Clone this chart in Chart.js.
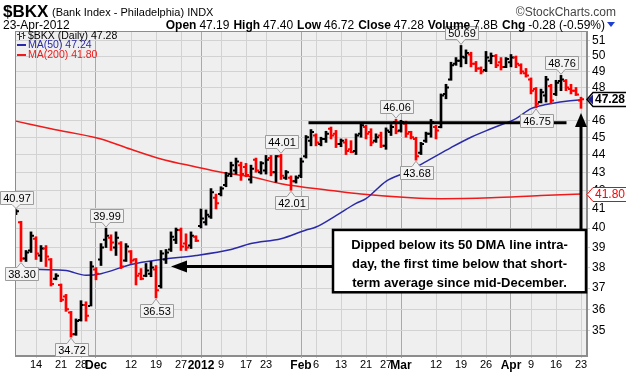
<!DOCTYPE html>
<html>
<head>
<meta charset="utf-8">
<script src="https://cdn.jsdelivr.net/npm/chart.js@4.4.1/dist/chart.umd.min.js"></script>
<style>
  html, body { margin: 0; padding: 0; background: #fff; }
  #wrap { width: 626px; height: 372px; }
</style>
</head>
<body>
<div id="wrap"><canvas id="bkx" width="626" height="372"></canvas></div>
<script>
// daily bars, 8-Nov-2011 .. 23-Apr-2012 (index 0..113)
const opens = [
  40.80, 40.30, 38.45, 38.85, 39.45, 38.60, 38.95, 38.40, 37.45, 37.15,
  36.60, 35.85, 34.85, 35.50, 36.20, 36.15, 37.90, 38.40, 39.40, 39.50,
  39.00, 39.20, 38.35, 38.80, 38.40, 37.70, 37.60, 37.70, 37.90, 37.10,
  38.40, 38.90, 39.40, 39.90, 39.20, 39.10, 39.55, 40.10, 40.30, 40.60,
  41.60, 41.80, 42.30, 42.90, 43.10, 43.40, 43.30, 42.60, 43.70, 43.00,
  43.10, 43.80, 43.00, 43.90, 42.70, 42.70, 42.50, 42.80, 43.90, 44.80,
  45.10, 44.60, 44.90, 45.50, 45.20, 44.60, 44.70, 44.30, 44.20, 45.20,
  45.60, 45.30, 44.80, 45.10, 44.50, 45.30, 45.90, 45.40, 45.80, 45.30,
  44.90, 44.10, 44.80, 45.20, 45.60, 45.60, 47.60, 48.50, 49.50, 49.70,
  49.90, 50.10, 49.50, 49.20, 49.10, 49.70, 50.00, 49.60, 49.30, 49.60,
  49.90, 49.40, 48.90, 48.50, 47.90, 47.10, 47.50, 48.10, 47.60, 48.40,
  48.40, 47.90, 47.80, 47.19
];
const highs = [
  40.97, 40.35, 38.85, 39.80, 39.55, 39.10, 39.10, 38.45, 37.70, 37.20,
  36.70, 35.90, 35.55, 36.40, 36.35, 38.30, 38.00, 39.20, 39.99, 39.65,
  39.80, 39.30, 39.20, 38.85, 38.45, 37.95, 38.20, 38.30, 38.10, 38.85,
  38.90, 39.80, 40.00, 40.00, 39.70, 39.80, 39.60, 41.00, 40.95, 42.10,
  41.80, 42.20, 43.00, 43.57, 43.80, 43.57, 43.50, 43.40, 43.80, 43.60,
  43.95, 43.95, 43.95, 44.01, 43.10, 42.80, 42.80, 43.80, 45.10, 45.45,
  45.20, 45.00, 45.35, 45.60, 45.40, 44.90, 44.90, 44.80, 45.20, 45.85,
  45.70, 45.50, 45.20, 45.30, 45.55, 45.75, 46.06, 46.00, 45.95, 45.35,
  45.00, 44.70, 45.30, 46.05, 45.70, 47.60, 48.20, 49.60, 49.90, 50.69,
  50.40, 50.25, 49.65, 49.30, 50.30, 50.20, 50.10, 49.90, 49.90, 50.10,
  50.00, 49.50, 49.20, 48.60, 48.00, 47.90, 48.70, 48.20, 48.45, 48.76,
  48.50, 48.20, 48.00, 47.40
];
const lows = [
  40.70, 38.30, 38.30, 38.75, 38.40, 38.30, 38.05, 37.10, 37.40, 36.35,
  35.90, 34.72, 34.80, 35.45, 35.45, 36.15, 37.40, 38.10, 39.00, 38.85,
  38.60, 37.95, 38.30, 38.20, 37.15, 37.40, 37.55, 37.55, 36.53, 37.00,
  38.20, 38.80, 39.20, 38.85, 38.85, 38.95, 39.30, 40.00, 40.15, 40.50,
  41.00, 41.70, 42.20, 42.75, 42.90, 42.55, 42.75, 42.40, 43.00, 42.90,
  42.90, 42.80, 42.45, 42.60, 42.60, 42.01, 42.40, 42.70, 43.80, 44.50,
  44.50, 44.50, 44.70, 44.90, 44.40, 44.45, 44.00, 44.10, 44.00, 45.00,
  44.90, 44.50, 44.70, 44.40, 44.30, 45.10, 45.20, 45.30, 45.00, 44.90,
  43.68, 44.00, 44.70, 45.00, 44.90, 45.55, 47.30, 48.45, 49.40, 49.30,
  49.50, 49.30, 49.00, 48.85, 49.00, 49.50, 49.25, 49.10, 49.25, 49.30,
  49.25, 48.85, 48.65, 47.60, 46.75, 47.05, 47.10, 47.00, 47.50, 47.80,
  47.80, 47.60, 47.50, 46.72
];
const closes = [
  40.88, 38.45, 38.75, 39.60, 38.70, 38.95, 38.55, 37.20, 37.60, 36.45,
  36.00, 34.85, 35.45, 36.20, 35.70, 38.05, 37.70, 39.00, 39.60, 39.25,
  39.50, 38.05, 39.05, 38.35, 37.60, 37.45, 37.85, 38.00, 36.90, 38.70,
  38.75, 39.55, 39.90, 39.05, 39.00, 39.60, 39.35, 40.50, 40.70, 41.90,
  41.30, 42.10, 42.80, 43.40, 43.60, 42.90, 42.85, 43.20, 43.10, 43.50,
  43.70, 43.00, 43.90, 42.80, 43.00, 42.50, 42.70, 43.60, 45.00, 45.30,
  44.70, 44.90, 45.20, 45.10, 44.60, 44.80, 44.20, 44.15, 45.10, 45.70,
  45.20, 44.70, 45.00, 44.50, 45.40, 45.60, 45.35, 45.90, 45.20, 45.00,
  43.90, 44.60, 45.20, 45.90, 45.40, 47.50, 48.00, 49.40, 49.70, 49.95,
  50.20, 49.50, 49.20, 49.00, 49.90, 50.00, 49.40, 49.30, 49.80, 49.90,
  49.50, 49.00, 48.75, 47.80, 47.00, 47.70, 48.50, 47.20, 48.30, 48.50,
  48.00, 47.80, 47.56, 47.28
];

// moving averages, read at these bar indexes
const ma50Idx = [0, 5, 10, 14, 17, 23, 29, 36, 43, 47, 53, 58, 60, 64, 68, 70, 74, 78, 82, 87, 91, 95, 100, 103, 106, 110, 113];
const ma50Val = [37.95, 37.90, 37.85, 37.62, 37.70, 38.15, 38.40, 38.60, 38.90, 39.20, 39.45, 39.90, 40.05, 40.65, 41.30, 41.55, 42.50, 43.00, 43.60, 44.40, 45.00, 45.50, 46.10, 46.70, 46.95, 47.15, 47.24];
const ma200Idx = [0, 7, 17, 23, 29, 36, 41, 47, 53, 63, 69, 79, 85, 95, 105, 113];
const ma200Val = [45.95, 45.50, 44.90, 44.30, 43.75, 43.30, 43.00, 42.75, 42.37, 42.00, 41.80, 41.60, 41.55, 41.60, 41.72, 41.80];

// axis ticks
const tickIdx = [4, 9, 13, 16, 23, 28, 33, 37, 41, 46, 50, 57, 60, 65, 70, 74, 77, 84, 89, 94, 99, 103, 108, 113];
const tickText = ['14', '21', '28', 'Dec', '12', '19', '27', '2012', '9', '17', '23', 'Feb', '6', '13', '21', '27', 'Mar', '12', '19', '26', 'Apr', '9', '16', '23'];
const majorText = ['Dec', '2012', 'Feb', 'Mar', 'Apr'];
const priceTicks = [35, 36, 37, 38, 39, 40, 41, 42, 43, 44, 45, 46, 47, 48, 49, 50, 51];

// labelled highs / lows
const markIdx = [0, 1, 18, 11, 28, 53, 55, 76, 80, 89, 104, 109];
const markSide = ['hi', 'lo', 'hi', 'lo', 'lo', 'hi', 'lo', 'hi', 'lo', 'hi', 'lo', 'hi'];

// drawn annotations (bar index / price)
const supportLine = { from: 58.5, to: 110.1, price: 45.85 };
const noteBox = { left: 63.4, right: 114.0, top: 39.9, bottom: 36.8 };
const noteLines = ['Dipped below its 50 DMA line intra-', 'day, the first time below that short-', 'term average since mid-December.'];
const leftArrow = { tip: 31, price: 38.05 };
const upArrow = { at: 113, tip: 46.44 };

const FONT = '"Liberation Sans", Arial, sans-serif';
const RED = '#ff0000';
const BLUE_MA = '#2a2aa8';
const RED_MA = '#f01a1a';

const barColors = closes.map((c, i) => (i > 0 && c < closes[i - 1]) ? RED : '#000000');

function isMajor(v) {
  const i = tickIdx.indexOf(v);
  return i >= 0 && majorText.includes(tickText[i]);
}

function tagBox(c, x, y, text, above) {
  c.font = '11px ' + FONT;
  const w = Math.round(c.measureText(text).width) + 5;
  const h = 13;
  const bx = Math.round(x - w / 2) + 0.5;
  const by = above ? Math.round(y - 6 - h) + 0.5 : Math.round(y + 6) + 0.5;
  const tip = above ? y - 1 : y + 1;
  c.beginPath();
  if (above) {
    c.moveTo(bx, by); c.lineTo(bx + w, by); c.lineTo(bx + w, by + h);
    c.lineTo(x + 4, by + h); c.lineTo(x, tip); c.lineTo(x - 4, by + h);
    c.lineTo(bx, by + h);
  } else {
    c.moveTo(bx, by); c.lineTo(x - 4, by); c.lineTo(x, tip); c.lineTo(x + 4, by);
    c.lineTo(bx + w, by); c.lineTo(bx + w, by + h); c.lineTo(bx, by + h);
  }
  c.closePath();
  c.fillStyle = '#f3f3f3';
  c.strokeStyle = '#9c9c9c';
  c.lineWidth = 1;
  c.fill();
  c.stroke();
  c.fillStyle = '#000';
  c.textAlign = 'center';
  c.textBaseline = 'middle';
  c.fillText(text, bx + w / 2, by + h / 2 + 0.5);
}

function priceFlag(c, x, y, text, color, bold, notch) {
  c.font = (bold ? 'bold ' : '') + '12px ' + FONT;
  const w = Math.round(c.measureText(text).width) + 6;
  const top = Math.round(y) - 6.5, bot = Math.round(y) + 7.5;
  c.beginPath();
  c.moveTo(x, (top + bot) / 2);
  c.lineTo(x + 6, top);
  c.lineTo(x + 6 + w, top);
  c.lineTo(x + 6 + w, bot);
  c.lineTo(x + 6, bot);
  c.closePath();
  c.fillStyle = '#fff';
  c.fill();
  c.strokeStyle = color;
  c.lineWidth = bold ? 1.5 : 1;
  c.stroke();
  if (notch) {
    c.beginPath();
    c.moveTo(x + 1, (top + bot) / 2);
    c.lineTo(x + 6, top + 2);
    c.lineTo(x + 6, bot - 2);
    c.closePath();
    c.fillStyle = notch;
    c.fill();
  }
  c.fillStyle = color;
  c.textAlign = 'left';
  c.textBaseline = 'middle';
  c.fillText(text, x + 8, (top + bot) / 2 + 0.5);
}

const overlay = {
  id: 'overlay',
  beforeDraw(chart) {
    const c = chart.ctx, a = chart.chartArea;
    c.save();
    c.fillStyle = '#efefef';
    c.fillRect(a.left, a.top, a.right - a.left, a.bottom - a.top);
    c.restore();
  },
  afterDatasetsDraw(chart) {
    const c = chart.ctx, a = chart.chartArea;
    const xs = chart.scales.x, ys = chart.scales.y;
    c.save();

    // plot frame
    c.strokeStyle = '#8c8c8c';
    c.lineWidth = 1;
    c.strokeRect(a.left + 0.5, a.top + 0.5, a.right - a.left - 1, a.bottom - a.top - 1);

    // support line
    const sy = ys.getPixelForValue(supportLine.price);
    c.strokeStyle = '#000';
    c.lineWidth = 3;
    c.beginPath();
    c.moveTo(xs.getPixelForValue(supportLine.from), sy);
    c.lineTo(xs.getPixelForValue(supportLine.to), sy);
    c.stroke();

    // note box
    const bl = xs.getPixelForValue(noteBox.left), br = xs.getPixelForValue(noteBox.right);
    const bt = ys.getPixelForValue(noteBox.top), bb = ys.getPixelForValue(noteBox.bottom);

    // left arrow
    const ay = ys.getPixelForValue(leftArrow.price);
    const ax = xs.getPixelForValue(leftArrow.tip);
    c.beginPath();
    c.moveTo(bl, ay);
    c.lineTo(ax + 12, ay);
    c.stroke();
    c.fillStyle = '#000';
    c.beginPath();
    c.moveTo(ax, ay);
    c.lineTo(ax + 16, ay - 6);
    c.lineTo(ax + 16, ay + 6);
    c.closePath();
    c.fill();

    // up arrow
    const ux = xs.getPixelForValue(upArrow.at);
    const uy = ys.getPixelForValue(upArrow.tip);
    c.beginPath();
    c.moveTo(ux, bt);
    c.lineTo(ux, uy + 10);
    c.stroke();
    c.beginPath();
    c.moveTo(ux, uy);
    c.lineTo(ux - 6, uy + 14);
    c.lineTo(ux + 6, uy + 14);
    c.closePath();
    c.fill();

    c.fillStyle = '#fff';
    c.fillRect(bl, bt, br - bl, bb - bt);
    c.lineWidth = 2.5;
    c.strokeStyle = '#000';
    c.strokeRect(bl, bt, br - bl, bb - bt);
    c.fillStyle = '#000';
    c.font = 'bold 13px ' + FONT;
    c.textAlign = 'center';
    c.textBaseline = 'middle';
    const mid = (bl + br) / 2;
    noteLines.forEach((t, i) => c.fillText(t, mid, bt + 15.5 + i * 19));

    // high / low tags
    markIdx.forEach((k, i) => {
      const hi = markSide[i] === 'hi';
      const v = hi ? highs[k] : lows[k];
      tagBox(c, xs.getPixelForValue(k), ys.getPixelForValue(v), v.toFixed(2), hi);
    });

    // legend
    c.strokeStyle = '#333';
    c.lineWidth = 1;
    c.beginPath();
    c.moveTo(19.5, 32); c.lineTo(19.5, 40);
    c.moveTo(17, 34.5); c.lineTo(19.5, 34.5);
    c.moveTo(19.5, 36.5); c.lineTo(22, 36.5);
    c.moveTo(23.5, 32); c.lineTo(23.5, 39);
    c.moveTo(21.5, 33.5); c.lineTo(23.5, 33.5);
    c.moveTo(23.5, 35.5); c.lineTo(25.5, 35.5);
    c.stroke();
    c.font = '10.5px ' + FONT;
    c.textAlign = 'left';
    c.textBaseline = 'middle';
    c.fillStyle = '#000';
    c.fillText('$BKX (Daily) ' + closes[closes.length - 1].toFixed(2), 28, 36);
    c.fillStyle = BLUE_MA;
    c.fillRect(17, 44, 9, 2);
    c.fillText('MA(50) ' + ma50Val[ma50Val.length - 1].toFixed(2), 28, 45.5);
    c.fillStyle = RED_MA;
    c.fillRect(17, 54, 9, 2);
    c.fillText('MA(200) ' + ma200Val[ma200Val.length - 1].toFixed(2), 28, 55.5);

    // price flags on the right axis
    priceFlag(c, a.right, ys.getPixelForValue(closes[closes.length - 1]), closes[closes.length - 1].toFixed(2), '#000', true, '#1c1c8c');
    priceFlag(c, a.right, ys.getPixelForValue(ma200Val[ma200Val.length - 1]), ma200Val[ma200Val.length - 1].toFixed(2), RED, false, null);

    c.restore();
  },
  afterDraw(chart) {
    const c = chart.ctx;
    c.save();
    c.fillStyle = '#000';
    c.textBaseline = 'alphabetic';
    c.textAlign = 'left';
    c.font = 'bold 17px ' + FONT;
    c.fillText('$BKX', 3, 17);
    c.font = '11px ' + FONT;
    c.fillText('(Bank Index - Philadelphia) INDX', 52, 16);
    c.font = '12px ' + FONT;
    c.textAlign = 'right';
    c.fillStyle = '#444';
    c.fillText('\u00a9StockCharts.com', 616, 16);

    c.textAlign = 'left';
    c.fillStyle = '#000';
    c.fillText('23-Apr-2012', 3, 29);

    const last = closes.length - 1;
    const chg = closes[last] - closes[last - 1];
    const parts = [
      ['Open', true], [opens[last].toFixed(2), false],
      ['High', true], [highs[last].toFixed(2), false],
      ['Low', true], [lows[last].toFixed(2), false],
      ['Close', true], [closes[last].toFixed(2), false],
      ['Volume', true], ['7.8B', false],
      ['Chg', true], [chg.toFixed(2) + ' (' + (chg / closes[last - 1] * 100).toFixed(2) + '%)', false]
    ];
    const gap = i => (i === parts.length - 1 ? 0 : (i % 2 === 0 ? 3 : 4));
    let total = 0;
    parts.forEach((p, i) => { c.font = (p[1] ? 'bold ' : '') + '12px ' + FONT; total += c.measureText(p[0]).width + gap(i); });
    let x = 605 - total;
    parts.forEach((p, i) => {
      c.font = (p[1] ? 'bold ' : '') + '12px ' + FONT;
      c.fillText(p[0], x, 29);
      x += c.measureText(p[0]).width + gap(i);
    });
    c.fillStyle = '#1f3fd0';
    c.beginPath();
    c.moveTo(607, 22); c.lineTo(615, 22); c.lineTo(611, 27);
    c.closePath();
    c.fill();
    c.restore();
  }
};

Chart.defaults.font.family = FONT;
Chart.defaults.color = '#000';

new Chart(document.getElementById('bkx'), {
  type: 'bar',
  data: {
    datasets: [
      {
        type: 'bar',
        data: highs.map((h, i) => ({ x: i, y: [lows[i], h] })),
        backgroundColor: barColors,
        borderWidth: 0,
        barThickness: 2,
        order: 1
      },
      {
        type: 'scatter',
        data: opens.map((o, i) => ({ x: i - 0.4, y: o })),
        pointStyle: 'line',
        pointRadius: 1,
        pointBorderWidth: 2,
        pointBorderColor: barColors,
        pointHoverRadius: 1,
        order: 0
      },
      {
        type: 'scatter',
        data: closes.map((v, i) => ({ x: i + 0.4, y: v })),
        pointStyle: 'line',
        pointRadius: 1,
        pointBorderWidth: 2,
        pointBorderColor: barColors,
        pointHoverRadius: 1,
        order: 0
      },
      {
        type: 'line',
        data: ma50Idx.map((k, i) => ({ x: k, y: ma50Val[i] })),
        borderColor: BLUE_MA,
        borderWidth: 1.5,
        pointRadius: 0,
        cubicInterpolationMode: 'monotone',
        order: 5
      },
      {
        type: 'line',
        data: ma200Idx.map((k, i) => ({ x: k, y: ma200Val[i] })),
        borderColor: RED_MA,
        borderWidth: 1.5,
        pointRadius: 0,
        cubicInterpolationMode: 'monotone',
        order: 5
      }
    ]
  },
  options: {
    responsive: false,
    animation: false,
    events: [],
    devicePixelRatio: 1,
    layout: { padding: { left: 15, top: 31, right: 0, bottom: 0 } },
    plugins: { legend: { display: false }, tooltip: { enabled: false } },
    scales: {
      x: {
        type: 'linear',
        min: -0.2,
        max: 114.2,
        bounds: 'data',
        offset: false,
        afterBuildTicks: s => { s.ticks = tickIdx.map(v => ({ value: v })); },
        afterFit: s => { s.height = 16; },
        ticks: {
          autoSkip: false,
          maxRotation: 0,
          minRotation: 0,
          padding: 0,
          color: '#000',
          callback: v => tickText[tickIdx.indexOf(v)],
          font: ctx => isMajor(ctx.tick && ctx.tick.value)
            ? { size: 12, weight: 'bold', family: FONT }
            : { size: 11, family: FONT }
        },
        grid: {
          offset: false,
          tickLength: 2,
          color: ctx => isMajor(ctx.tick && ctx.tick.value) ? '#a9a9a9' : '#d2d2d2'
        },
        border: { color: '#8c8c8c' }
      },
      y: {
        type: 'logarithmic',
        position: 'right',
        min: 33.88,
        max: 51.65,
        bounds: 'data',
        afterBuildTicks: s => { s.ticks = priceTicks.map(v => ({ value: v })); },
        afterFit: s => { s.width = 39; },
        ticks: {
          autoSkip: false,
          padding: 2,
          color: '#000',
          font: { size: 12, family: FONT },
          callback: v => String(v)
        },
        grid: { tickLength: 3, color: '#d2d2d2' },
        border: { color: '#8c8c8c' }
      }
    }
  },
  plugins: [overlay]
});
</script>
</body>
</html>
